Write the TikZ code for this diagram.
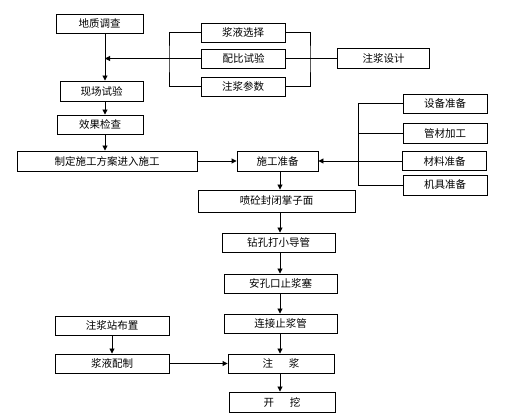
\documentclass[tikz,border=0pt]{standalone}
\usepackage{fontspec}
\setmainfont{Noto Sans CJK SC}
\usepackage{tikz}
\usetikzlibrary{arrows.meta}

\begin{document}
\begin{tikzpicture}[%
    x=1pt, y=-1pt,
    process/.style={%
        draw,
        rectangle,
        line width=0.9pt,
        inner sep=0pt,
        minimum height=19pt,
        font=\fontsize{10.5}{12}\selectfont
    },
    branch/.style={%
        draw,
        rectangle,
        line width=0.9pt,
        inner sep=0pt,
        minimum width=84pt,
        minimum height=19pt,
        font=\fontsize{10.5}{12}\selectfont
    },
    link/.style={%
        line width=0.9pt
    },
    >={Stealth[length=5pt,width=5pt,inset=0pt]}
]
\useasboundingbox (0,0) rectangle (512,419);

% Survey and trial
    \node[process, minimum width=87pt] (survey) at (99.5, 24) {地质调查};
    \node[process, minimum width=83pt, minimum height=20pt] (trial) at (101.5, 91) {现场试验};
    \node[process, minimum width=86pt] (check) at (100, 124.5) {效果检查};
    \node[process, minimum width=180pt, minimum height=20pt] (plan) at (107, 161) {制定施工方案进入施工};
    \coordinate (leftAxis) at (105, 0);

% Grout design
    \node[branch] (slurry) at (243, 32.5) {浆液选择};
    \node[branch] (ratio) at (243.5, 58.5) {配比试验};
    \node[branch] (param) at (243, 86.5) {注浆参数};
    \node[process, minimum width=92pt, minimum height=20pt] (design) at (383.5, 58.5) {注浆设计};
    \coordinate (designL) at (169, 58.5);
    \coordinate (designR) at (310, 58.5);

% Preparation
    \node[process, minimum width=81pt, minimum height=20pt] (prep) at (277.5, 161) {施工准备};
    \node[branch] (equip) at (445, 103.5) {设备准备};
    \node[branch, minimum height=20pt] (pipe) at (445, 133) {管材加工};
    \node[branch] (material) at (444.5, 161) {材料准备};
    \node[branch, minimum height=20pt] (tool) at (445, 185) {机具准备};
    \coordinate (prepR) at (358, 161);

% Construction
    \node[process, minimum width=157pt, minimum height=22pt] (seal) at (276.5, 201) {喷砼封闭掌子面};
    \node[process, minimum width=113pt] (drill) at (278.5, 242.5) {钻孔打小导管};
    \node[process, minimum width=113pt] (plug) at (280.5, 283.5) {安孔口止浆塞};
    \node[process, minimum width=113pt] (connect) at (280.5, 323.5) {连接止浆管};
    \node[process, minimum width=106pt] (grout) at (281, 363.5) {注\hspace{1.5em}浆};
    \node[process, minimum width=106pt, minimum height=20pt] (excavate) at (282, 402) {开\hspace{1.5em}挖};
    \coordinate (mainAxis) at (280, 0);

% Grouting station
    \node[process, minimum width=114pt] (station) at (112, 325.5) {注浆站布置};
    \node[process, minimum width=114pt] (mix) at (112, 363.5) {浆液配制};

% Arrows
\draw[link, ->] (survey.south -| leftAxis) -- (trial.north -| leftAxis);
\draw[link, ->] (trial.south -| leftAxis) -- (check.north -| leftAxis);
\draw[link, ->] (check.south -| leftAxis) -- (plan.north -| leftAxis);

\draw[link] (slurry.west) -| (designL) |- (param.west);
\draw[link] (ratio.west) -- (designL);
\draw[link, ->] (designL) -- (designL -| leftAxis);
\draw[link] (slurry.east) -| (designR) |- (param.east);
\draw[link] (ratio.east) -- (design.west);

\draw[link, ->] (plan.east) -- (prep.west);
\draw[link] (equip.west) -| (prepR |- tool.west) -- (tool.west);
\draw[link] (pipe.west) -- (pipe.west -| prepR);
\draw[link, ->] (material.west) -- (prep.east);

\draw[link, ->] (prep.south -| mainAxis) -- (seal.north -| mainAxis);
\draw[link, ->] (seal.south -| mainAxis) -- (drill.north -| mainAxis);
\draw[link, ->] (drill.south -| mainAxis) -- (plug.north -| mainAxis);
\draw[link, ->] (plug.south -| mainAxis) -- (connect.north -| mainAxis);
\draw[link, ->] (connect.south -| mainAxis) -- (grout.north -| mainAxis);
\draw[link, ->] (grout.south -| mainAxis) -- (excavate.north -| mainAxis);

\draw[link, ->] (station.south) -- (mix.north);
\draw[link, ->] (mix.east) -- (grout.west);

\end{tikzpicture}
\end{document}
